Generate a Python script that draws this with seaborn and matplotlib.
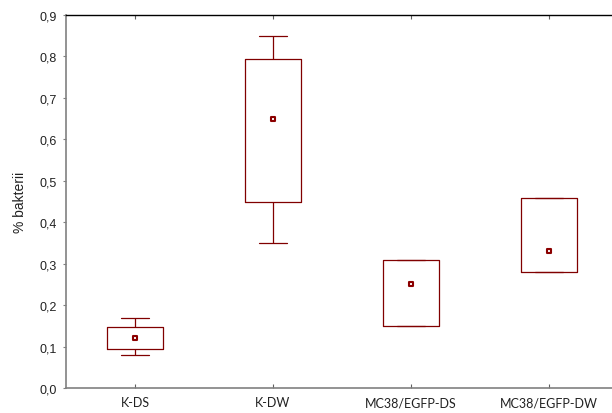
import numpy as np
import pandas as pd
import matplotlib
matplotlib.use("Agg")
import matplotlib.pyplot as plt
from matplotlib.ticker import FuncFormatter, MultipleLocator
import seaborn as sns

categories = ["K-DS", "K-DW", "MC38/EGFP-DS", "MC38/EGFP-DW"]
mins    = [0.08, 0.35, 0.15, 0.28]
q1s     = [0.094, 0.449, 0.15, 0.28]
centers = [0.12, 0.649, 0.25, 0.33]
q3s     = [0.148, 0.795, 0.308, 0.459]
maxs    = [0.168, 0.849, 0.308, 0.459]
y_label = "% bakterii"

rows = []
for c, a, b, m, d, e in zip(categories, mins, q1s, centers, q3s, maxs):
    for v in (a, b, m, d, e):
        rows.append({"group": c, "value": v})
df = pd.DataFrame(rows)
centers_df = pd.DataFrame({"group": categories, "value": centers})

sns.set_style("white")
plt.rcParams["font.family"] = ["Liberation Sans", "DejaVu Sans"]

red = "#800000"
fig = plt.figure(figsize=(6.12, 4.14), dpi=100)
ax = fig.add_axes([66 / 612, 25 / 414, 552 / 612, 373 / 414])

sns.boxplot(data=df, x="group", y="value", order=categories, fill=False,
            color=red, linecolor=red, linewidth=0.9, width=0.405, whis=np.inf,
            medianprops={"visible": False}, ax=ax)
sns.stripplot(data=centers_df, x="group", y="value", order=categories,
              jitter=False, marker="s", size=2.9, color="white",
              edgecolor="#8b0000", linewidth=1.5, ax=ax, zorder=5)

ax.set_xlim(-0.5, 3.5)
ax.set_ylim(0, 0.9)
ax.yaxis.set_major_locator(MultipleLocator(0.1))
ax.yaxis.set_major_formatter(FuncFormatter(lambda v, p: f"{v:.1f}".replace(".", ",")))
ax.set_xlabel("")
ax.set_ylabel(y_label, fontsize=10, color="#222222", labelpad=9)

for s in ("left", "bottom"):
    ax.spines[s].set_color("#808080")
    ax.spines[s].set_linewidth(1.2)
ax.spines["top"].set_color("black")
ax.spines["top"].set_linewidth(1.0)
ax.spines["right"].set_visible(False)

ax.tick_params(axis="y", which="major", left=True, direction="out", length=2.5,
               width=0.8, color="#808080", labelsize=9, labelcolor="#222222", pad=4)
ax.tick_params(axis="x", which="major", bottom=True, top=True, direction="in",
               length=3, width=0.8, color="#606060", pad=6)
for lbl in ax.get_xticklabels():
    lbl.set_fontfamily(["Lato", "DejaVu Sans"])
    lbl.set_fontsize(9)
    lbl.set_color("#222222")

fig.savefig("out.png", dpi=100)
